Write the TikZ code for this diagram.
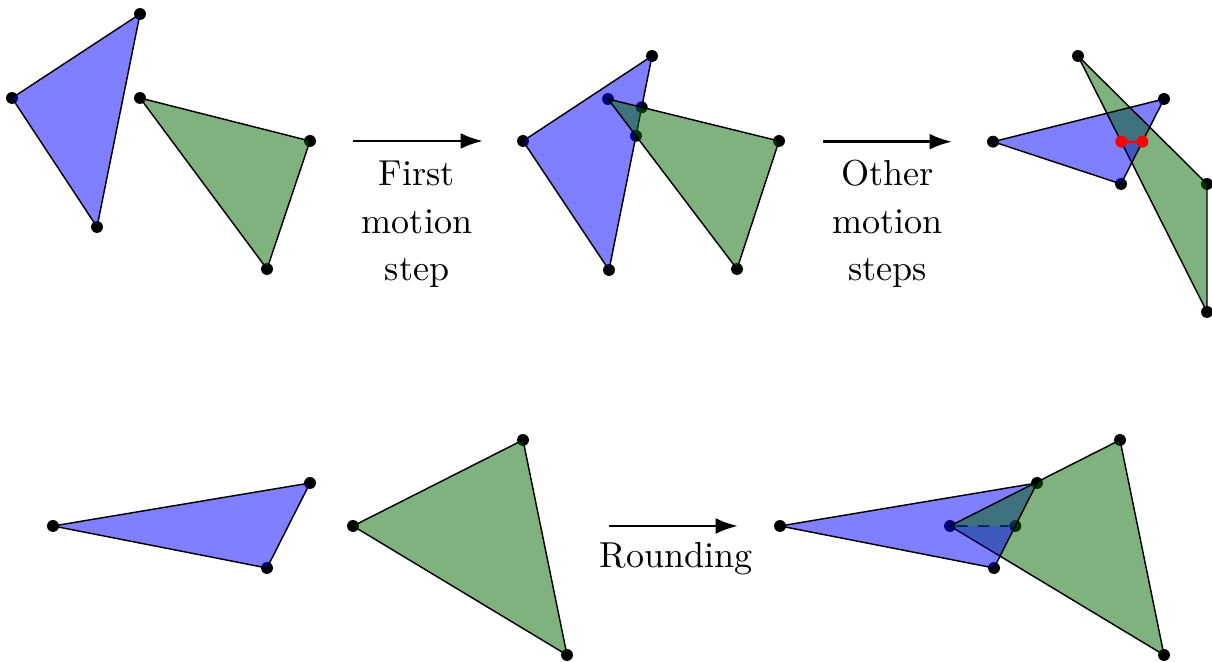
\documentclass[tikz,border=0pt]{standalone}
\usetikzlibrary{arrows.meta}
\definecolor{trigreen}{rgb}{0,0.4,0}
\tikzset{
  bfill/.style={fill=blue, fill opacity=0.5},
  gfill/.style={fill=trigreen, fill opacity=0.5},
  edge/.style={draw=black, line width=0.4pt},
  vdot/.style={circle, fill=black, inner sep=0pt, minimum size=3.3pt},
  rdot/.style={circle, fill=red, inner sep=0pt, minimum size=3.3pt},
  motion/.style={line width=0.8pt, -{Latex[length=6.2pt,width=4.4pt]}},
  lbl/.style={align=center, inner sep=0pt, anchor=north, font=\fontsize{10}{13.2}\selectfont}
}
\begin{document}
\begin{tikzpicture}[x=0.277pt, y=-0.277pt]
\useasboundingbox (0,0) rectangle (1212,662);
% ---------- coordinates ----------
% top-left
\coordinate (a1) at (140,14);  \coordinate (b1) at (12,98);   \coordinate (c1) at (97,227);
\coordinate (d1) at (140,98);  \coordinate (e1) at (310,141); \coordinate (f1) at (267,269);
% top-middle
\coordinate (a2) at (652,56);  \coordinate (b2) at (523,141); \coordinate (c2) at (609,270);
\coordinate (d2) at (608,99);  \coordinate (e2) at (779,141); \coordinate (f2) at (737,269);
\coordinate (i2) at (intersection of a2--c2 and d2--e2);
\coordinate (j2) at (intersection of a2--c2 and d2--f2);
% top-right
\coordinate (b3) at (993,141.7); \coordinate (a3) at (1164,99); \coordinate (c3) at (1121,184);
\coordinate (d3) at (1078,56);   \coordinate (e3) at (1207,184); \coordinate (f3) at (1207,312);
\coordinate (h3) at (1300,141.7);
\coordinate (r3) at (intersection of b3--h3 and d3--f3);
\coordinate (s3) at (intersection of b3--h3 and a3--c3);
\coordinate (m3) at (intersection of d3--f3 and a3--c3);
% bottom-left
\coordinate (b4) at (53,526);  \coordinate (a4) at (310,483); \coordinate (c4) at (267,568);
\coordinate (d4) at (353,526); \coordinate (e4) at (523,440); \coordinate (f4) at (567,655);
% bottom-right
\coordinate (b5) at (780,526); \coordinate (a5) at (1037,483); \coordinate (c5) at (994,568);
\coordinate (d5) at (950,526); \coordinate (e5) at (1120,440); \coordinate (f5) at (1164,655);
\coordinate (h5) at (1300,526);
\coordinate (q5) at (intersection of b5--h5 and a5--c5);
\coordinate (m5) at (intersection of d5--f5 and a5--c5);

% ---------- dots (under the fills) ----------
\foreach \p in {a1,b1,c1,d1,e1,f1,a2,b2,c2,d2,e2,f2,i2,j2,a3,b3,c3,d3,e3,f3,
                a4,b4,c4,d4,e4,f4,a5,b5,c5,d5,e5,f5,q5}
  \node[vdot] (n\p) at (\p) {};
\draw[dashed, line width=0.5pt] (nd5) -- (nq5);

% ---------- top-left ----------
\filldraw[bfill, edge] (a1) -- (b1) -- (c1) -- cycle;
\filldraw[gfill, edge] (d1) -- (e1) -- (f1) -- cycle;
% ---------- top-middle ----------
\filldraw[bfill, edge] (a2) -- (b2) -- (c2) -- cycle;
\filldraw[gfill, edge] (d2) -- (e2) -- (f2) -- cycle;
% ---------- top-right ----------
\fill[bfill, even odd rule] (b3) -- (a3) -- (c3) -- cycle (r3) -- (s3) -- (m3) -- cycle;
\filldraw[gfill, edge] (d3) -- (e3) -- (f3) -- cycle;
\fill[bfill] (r3) -- (s3) -- (m3) -- cycle;
\draw[edge] (a3) -- (b3) -- (c3) -- cycle;
\draw[red, line width=0.6pt] (r3) -- (s3);
\node[rdot] (nr3) at (r3) {};
\node[rdot] (ns3) at (s3) {};
% ---------- bottom-left ----------
\filldraw[bfill, edge] (a4) -- (b4) -- (c4) -- cycle;
\filldraw[gfill, edge] (d4) -- (e4) -- (f4) -- cycle;
% ---------- bottom-right ----------
\fill[bfill, even odd rule] (b5) -- (a5) -- (c5) -- cycle (d5) -- (q5) -- (m5) -- cycle;
\filldraw[gfill, edge] (d5) -- (e5) -- (f5) -- cycle;
\fill[bfill] (d5) -- (q5) -- (m5) -- cycle;
\draw[edge] (a5) -- (b5) -- (c5) -- cycle;

% ---------- arrows and labels ----------
\coordinate (s1) at (353,141);   \coordinate (t1) at (483,141);
\coordinate (s2) at (823,141.7); \coordinate (t2) at (952,141.7);
\coordinate (s4) at (609,526);   \coordinate (t4) at (738,526);
\draw[motion] (s1) -- (t1);
\draw[motion] (s2) -- (t2);
\draw[motion] (s4) -- (t4);
\node[lbl] (l1) at (417,151.6) {\strut First\\motion\\step};
\node[lbl] (l2) at (887.5,151.6) {\strut Other\\motion\\steps};
\node[lbl] (l4) at (676,533.3) {\strut Rounding};
\end{tikzpicture}
\end{document}
